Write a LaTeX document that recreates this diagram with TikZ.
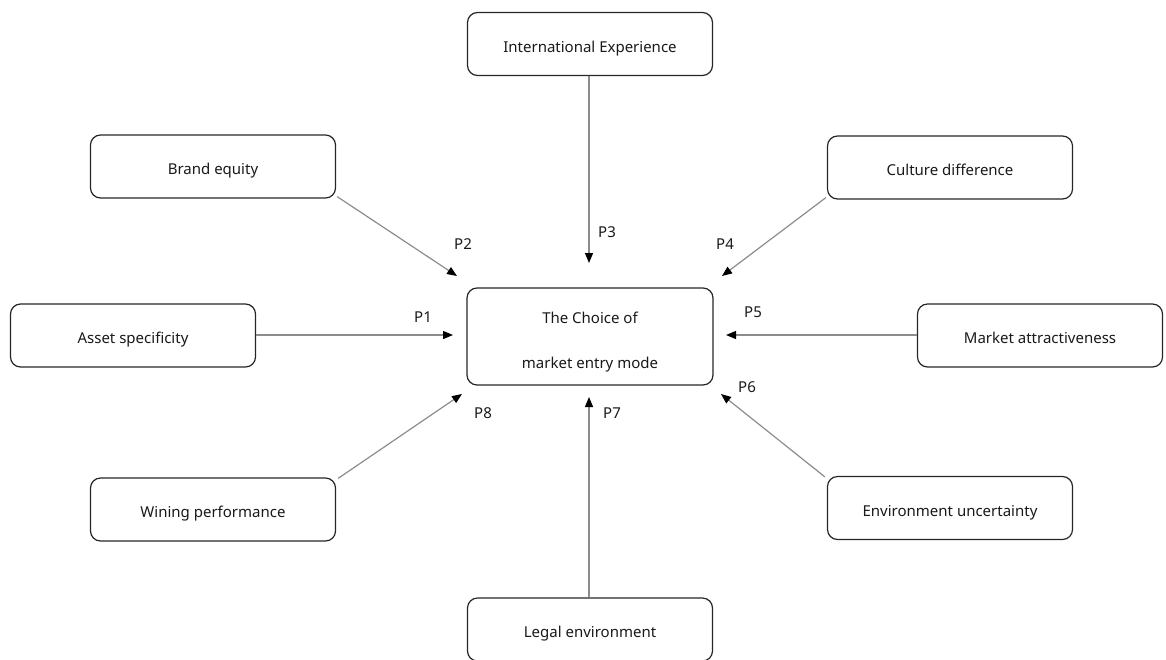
\documentclass[tikz,border=0pt]{standalone}
\usepackage{fontspec}
\setmainfont{Noto Sans}
\usetikzlibrary{arrows.meta}
\begin{document}
\begin{tikzpicture}[x=1pt,y=-1pt,
  box/.style={draw=black!85,line width=1.2pt,rounded corners=10pt,minimum width=245pt,minimum height=63pt,inner sep=0pt,text height=16pt,text depth=0pt,font=\fontsize{15}{18}\selectfont,text=black!90},
  conn/.style={draw=black!45,line width=1.2pt,-{Triangle[length=10pt,width=8pt,fill=black,color=black]}},
  plab/.style={font=\fontsize{15}{18}\selectfont,text=black!90,inner sep=0pt}]
\useasboundingbox (0,0) rectangle (1166,659);
\node[box] (ie) at (590,44) {International Experience};
\node[box] (be) at (213,166.5) {Brand equity};
\node[box] (cd) at (950,167.5) {Culture difference};
\node[box] (as) at (133,335.5) {Asset specificity};
\node[box] (ma) at (1040,335.5) {Market attractiveness};
\node[box] (wp) at (213,509.5) {Wining performance};
\node[box] (eu) at (950,508) {Environment uncertainty};
\node[box] (le) at (590,629.5) {Legal environment};
\node[box,minimum width=246pt,minimum height=97pt] (c) at (590,336.5) {};
\node[plab,align=center] (ct) at (590,342) {The Choice of\\[27pt]market entry mode};
\coordinate (t3) at (589,263);
\coordinate (t2) at (457,276);
\coordinate (t4) at (722,276);
\coordinate (t1) at (453,335);
\coordinate (t5) at (726,335);
\coordinate (t8) at (462,394);
\coordinate (t7) at (589,397);
\coordinate (t6) at (721,394);
\draw[conn] (ie.south -| t3) -- (t3);
\draw[conn] (be.south east) ++(1,-2) coordinate (s2) (s2) -- (t2);
\draw[conn] (cd.south west) ++(-1,-2) coordinate (s4) (s4) -- (t4);
\draw[conn] (as.east |- t1) -- (t1);
\draw[conn] (ma.west |- t5) -- (t5);
\draw[conn] (wp.north east) ++(2,1) coordinate (s8) (s8) -- (t8);
\draw[conn] (le.north -| t7) -- (t7);
\draw[conn] (eu.north west) ++(-2,1) coordinate (s6) (s6) -- (t6);
\node[plab] (p1) at (423,317) {P1};
\node[plab] (p2) at (463,244) {P2};
\node[plab] (p3) at (607,232) {P3};
\node[plab] (p4) at (725,244) {P4};
\node[plab] (p5) at (753,312) {P5};
\node[plab] (p6) at (747,387) {P6};
\node[plab] (p7) at (612,413) {P7};
\node[plab] (p8) at (483,413) {P8};
\end{tikzpicture}
\end{document}
